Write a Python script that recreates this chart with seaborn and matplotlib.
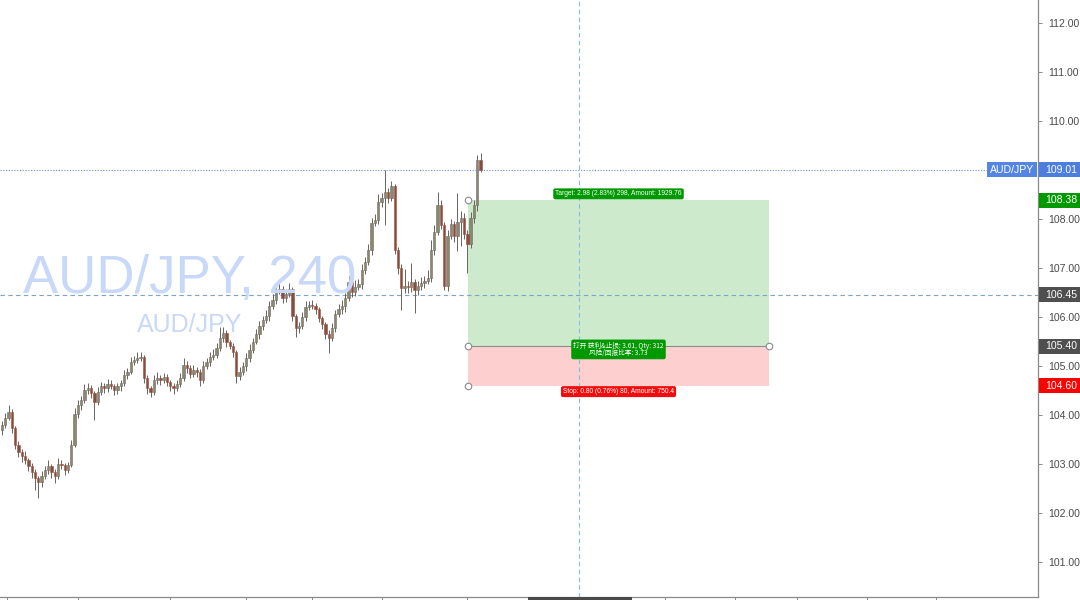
import numpy as np
import pandas as pd
import matplotlib
matplotlib.use("Agg")
import matplotlib.pyplot as plt
from matplotlib.patches import Rectangle
import seaborn as sns

# ---- AUD/JPY 4H closes (open of each bar = previous close) ----
first_open = 103.70
closes = [
    103.80, 103.94, 104.06, 103.73, 103.39, 103.24, 103.16, 103.08, 102.96, 102.84,
    102.71, 102.63, 102.76, 102.88, 102.96, 102.84, 102.76, 103.00, 102.98, 102.88,
    102.98, 103.39, 104.02, 104.20, 104.31, 104.51, 104.55, 104.45, 104.27, 104.47,
    104.59, 104.55, 104.63, 104.59, 104.51, 104.59, 104.65, 104.82, 104.88, 105.08,
    105.12, 105.16, 105.18, 104.76, 104.55, 104.47, 104.71, 104.76, 104.71, 104.78,
    104.67, 104.59, 104.55, 104.63, 104.76, 105.02, 104.96, 104.84, 104.92, 104.88,
    104.71, 105.00, 105.08, 105.18, 105.22, 105.37, 105.57, 105.67, 105.49, 105.41,
    105.29, 104.80, 104.88, 105.00, 105.16, 105.33, 105.49, 105.65, 105.82, 105.94,
    106.02, 106.22, 106.35, 106.53, 106.57, 106.39, 106.47, 106.57, 106.02, 105.78,
    105.82, 106.00, 106.20, 106.24, 106.22, 106.16, 105.98, 105.86, 105.65, 105.57,
    105.78, 106.06, 106.16, 106.22, 106.39, 106.71, 106.51, 106.61, 106.67, 106.96,
    107.12, 107.37, 107.92, 107.98, 108.35, 108.43, 108.55, 108.43, 108.67, 107.37,
    107.00, 106.59, 106.63, 106.61, 106.71, 106.55, 106.63, 106.69, 106.73, 106.80,
    107.37, 107.73, 108.29, 107.88, 106.63, 107.65, 107.90, 107.65, 107.94, 108.02,
    107.69, 107.49, 108.02, 108.29, 109.20, 109.01,
]
upper_wick = [
    .08, .10, .15, .06, .05, .08, .06, .10, .05, .07,
    .06, .05, .10, .08, .12, .05, .06, .12, .08, .05,
    .06, .10, .12, .10, .08, .12, .10, .06, .05, .10,
    .08, .06, .10, .08, .05, .07, .06, .10, .08, .10,
    .08, .12, .10, .05, .06, .05, .10, .12, .06, .08,
    .06, .05, .07, .08, .10, .15, .08, .06, .10, .06,
    .05, .10, .08, .10, .12, .10, .23, .12, .06, .05,
    .06, .04, .10, .08, .10, .12, .08, .10, .10, .08,
    .12, .10, .12, .14, .12, .06, .10, .12, .05, .05,
    .08, .10, .12, .08, .10, .06, .05, .05, .04, .08,
    .10, .08, .10, .12, .10, .12, .08, .15, .10, .12,
    .10, .12, .10, .12, .15, .10, .45, .08, .10, .05,
    .05, .08, .35, .10, .40, .06, .10, .12, .10, .15,
    .20, .15, .26, .10, .06, .12, .10, .06, .60, .15,
    .10, .08, .12, .10, .10, .15,
]
lower_wick = [
    .10, .06, .05, .10, .08, .10, .12, .08, .10, .12,
    .24, .32, .10, .06, .08, .12, .15, .06, .08, .10,
    .06, .05, .05, .08, .10, .06, .08, .10, .37, .06,
    .06, .10, .08, .06, .10, .08, .10, .06, .08, .05,
    .06, .05, .06, .10, .12, .10, .06, .08, .10, .06,
    .08, .10, .12, .06, .05, .06, .10, .08, .06, .10,
    .12, .05, .06, .08, .06, .05, .06, .08, .10, .06,
    .10, .15, .08, .06, .10, .08, .06, .05, .10, .08,
    .06, .10, .05, .08, .06, .10, .08, .06, .10, .19,
    .10, .06, .08, .05, .06, .10, .08, .10, .10, .30,
    .06, .08, .06, .10, .12, .06, .10, .08, .06, .10,
    .08, .06, .10, .06, .08, .10, .55, .10, .06, .08,
    .12, .45, .10, .12, .10, .47, .10, .08, .10, .06,
    .08, .10, .06, .08, .08, .10, .06, .12, .30, .50,
    .10, .59, .08, .10, .12, .06,
]

# ---- long position tool ----
entry_price = 105.40
target_price = 108.38
stop_price = 104.60
pos_start, pos_end = 141.2, 232.4
target_text = "Target: 2.98 (2.83%) 298, Amount: 1929.76"
mid_text = "打开 获利&止损: 3.61, Qty: 312\n风险/回报比率: 3.73"
stop_text = "Stop: 0.80 (0.76%) 80, Amount: 750.4"

last_price = 109.01
cross_price = 106.45
cross_bar = 174.8
symbol = "AUD/JPY"
title = "AUD/JPY, 240"
price_ticks = [101, 102, 103, 104, 105, 106, 107, 108, 109, 110, 111, 112]
time_ticks = [1.5, 23, 51, 74, 94, 115, 141, 201, 222, 241, 262, 283]

df = pd.DataFrame({"close": closes, "uw": upper_wick, "lw": lower_wick})
df["open"] = [first_open] + closes[:-1]
df["top"] = df[["open", "close"]].max(axis=1)
df["bot"] = df[["open", "close"]].min(axis=1)
df["high"] = df["top"] + df["uw"]
df["low"] = df["bot"] - df["lw"]
df["i"] = np.arange(len(df))
df["up"] = df["close"] >= df["open"]

sns.set_theme(style="white")
plt.rcParams["font.family"] = ["Liberation Sans", "DejaVu Sans"]

W, H = 1080, 600
fig = plt.figure(figsize=(W / 100, H / 100), dpi=100)
fig.patch.set_facecolor("white")
ax = fig.add_axes([0, 3 / H, 1038 / W, 597 / H])
ax.set_facecolor("white")
ax.set_xlim(-0.6, 313.9)
ax.set_ylim(100.286, 112.469)

# watermark
fig.text(190 / W, 1 - 279 / H, title, ha="center", va="center",
         fontsize=38, color="#c8d8f8", zorder=0)
fig.text(190 / W, 1 - 325 / H, symbol, ha="center", va="center",
         fontsize=18, color="#c8d8f8", zorder=0)

# position boxes
ax.add_patch(Rectangle((pos_start, entry_price), pos_end - pos_start,
                       target_price - entry_price, facecolor="#cdeacc",
                       edgecolor="none", zorder=1))
ax.add_patch(Rectangle((pos_start, stop_price), pos_end - pos_start,
                       entry_price - stop_price, facecolor="#fdcfcf",
                       edgecolor="none", zorder=1))
ax.plot([pos_start, pos_end], [entry_price, entry_price], color="#8c8c8c",
        lw=0.8, zorder=2)

# crosshair + last price lines
ax.axvline(cross_bar, color="#7fc0dc", lw=0.8, ls=(0, (4, 3)), zorder=1.5)
ax.axhline(cross_price, color="#7aa4c8", lw=0.8, ls=(0, (4, 3)), zorder=1.5)
ax.axhline(last_price, xmax=987 / 1038, color="#6f90e0", lw=0.8,
           ls=(0, (1, 1.5)), zorder=1.5)

# candles
up = df[df["up"]]
dn = df[~df["up"]]
ax.vlines(df["i"], df["low"], df["high"], color="#6a625c", lw=0.7, zorder=3)
ax.bar(up["i"], up["top"] - up["bot"], bottom=up["bot"], width=0.7,
       color="#8c8674", edgecolor="#6e6a5c", linewidth=0.4, zorder=4)
ax.bar(dn["i"], dn["top"] - dn["bot"], bottom=dn["bot"], width=0.7,
       color="#7d5243", edgecolor="#a84a38", linewidth=0.4, zorder=4)

# position handles
handles = pd.DataFrame({"x": [pos_start, pos_start, pos_end, pos_start],
                        "y": [target_price, entry_price, entry_price, stop_price]})
sns.scatterplot(data=handles, x="x", y="y", ax=ax, s=22, color="white",
                edgecolor="#8a8a8a", linewidth=0.8, zorder=6, legend=False)

# position labels
cx = (pos_start + pos_end) / 2
lab_kw = dict(ha="center", va="center", textcoords="offset pixels",
              color="white", fontsize=4.8, zorder=7)
ax.annotate(target_text, xy=(cx, target_price), xytext=(0, 6.5),
            bbox=dict(boxstyle="round,pad=0.3", fc="#009900", ec="none"), **lab_kw)
ax.annotate(mid_text, xy=(cx, entry_price), xytext=(0, -3),
            bbox=dict(boxstyle="round,pad=0.3", fc="#009900", ec="none"),
            linespacing=0.95, family=["Noto Sans CJK SC", "DejaVu Sans"], **lab_kw)
ax.annotate(stop_text, xy=(cx, stop_price), xytext=(0, -6),
            bbox=dict(boxstyle="round,pad=0.3", fc="#f20d0d", ec="none"), **lab_kw)

# axes styling
for s in ["top", "left"]:
    ax.spines[s].set_visible(False)
for s in ["right", "bottom"]:
    ax.spines[s].set_visible(True)
    ax.spines[s].set_color("#8a8a8a")
    ax.spines[s].set_linewidth(0.9)
ax.yaxis.tick_right()
ax.set_yticks(price_ticks)
# the 109.00 label sits under the last-price tag
ax.set_yticklabels(["" if abs(v - last_price) < 0.2 else f"{v:.2f}"
                    for v in price_ticks])
ax.tick_params(axis="y", which="both", right=True, length=3, width=0.7,
               color="#8a8a8a", pad=4, labelsize=7.6, labelcolor="#4a4a4a")
ax.set_xticks(time_ticks)
ax.set_xticklabels([])
ax.tick_params(axis="x", bottom=True, length=3, width=0.7, color="#8a8a8a")
ax.set_xlabel("")
ax.set_ylabel("")

# right-hand price tags
tag = fig.add_axes([1038 / W, 3 / H, 42 / W, 597 / H], sharey=ax)
tag.set_xlim(0, 1)
tag.axis("off")
half = 7.5 / 49
tags = [(last_price, "#4c7ee0"), (target_price, "#009900"),
        (cross_price, "#4f4f4f"), (entry_price, "#4f4f4f"),
        (stop_price, "#ff0000")]
for val, col in tags:
    tag.add_patch(Rectangle((0.02, val - half), 1.0, 2 * half,
                            facecolor=col, edgecolor="none", clip_on=False))
    tag.text(0.17, val, f"{val:.2f}", color="white", fontsize=7.6,
             ha="left", va="center")

# symbol tag left of the price scale
ytr = ax.get_yaxis_transform()
ax.add_patch(Rectangle((987 / 1038, last_price - half), 50 / 1038, 2 * half,
                       transform=ytr, facecolor="#5585e2", edgecolor="none",
                       zorder=8, clip_on=False))
ax.text(1012 / 1038, last_price, symbol, transform=ytr, color="white",
        fontsize=7.6, ha="center", va="center", zorder=9)

# time tag under the crosshair (clipped at the bottom edge)
fig.patches.append(Rectangle((528 / W, 0), 104 / W, 3 / H, facecolor="#4a4a4a",
                             edgecolor="none", transform=fig.transFigure))

fig.savefig("out.png", dpi=100)
